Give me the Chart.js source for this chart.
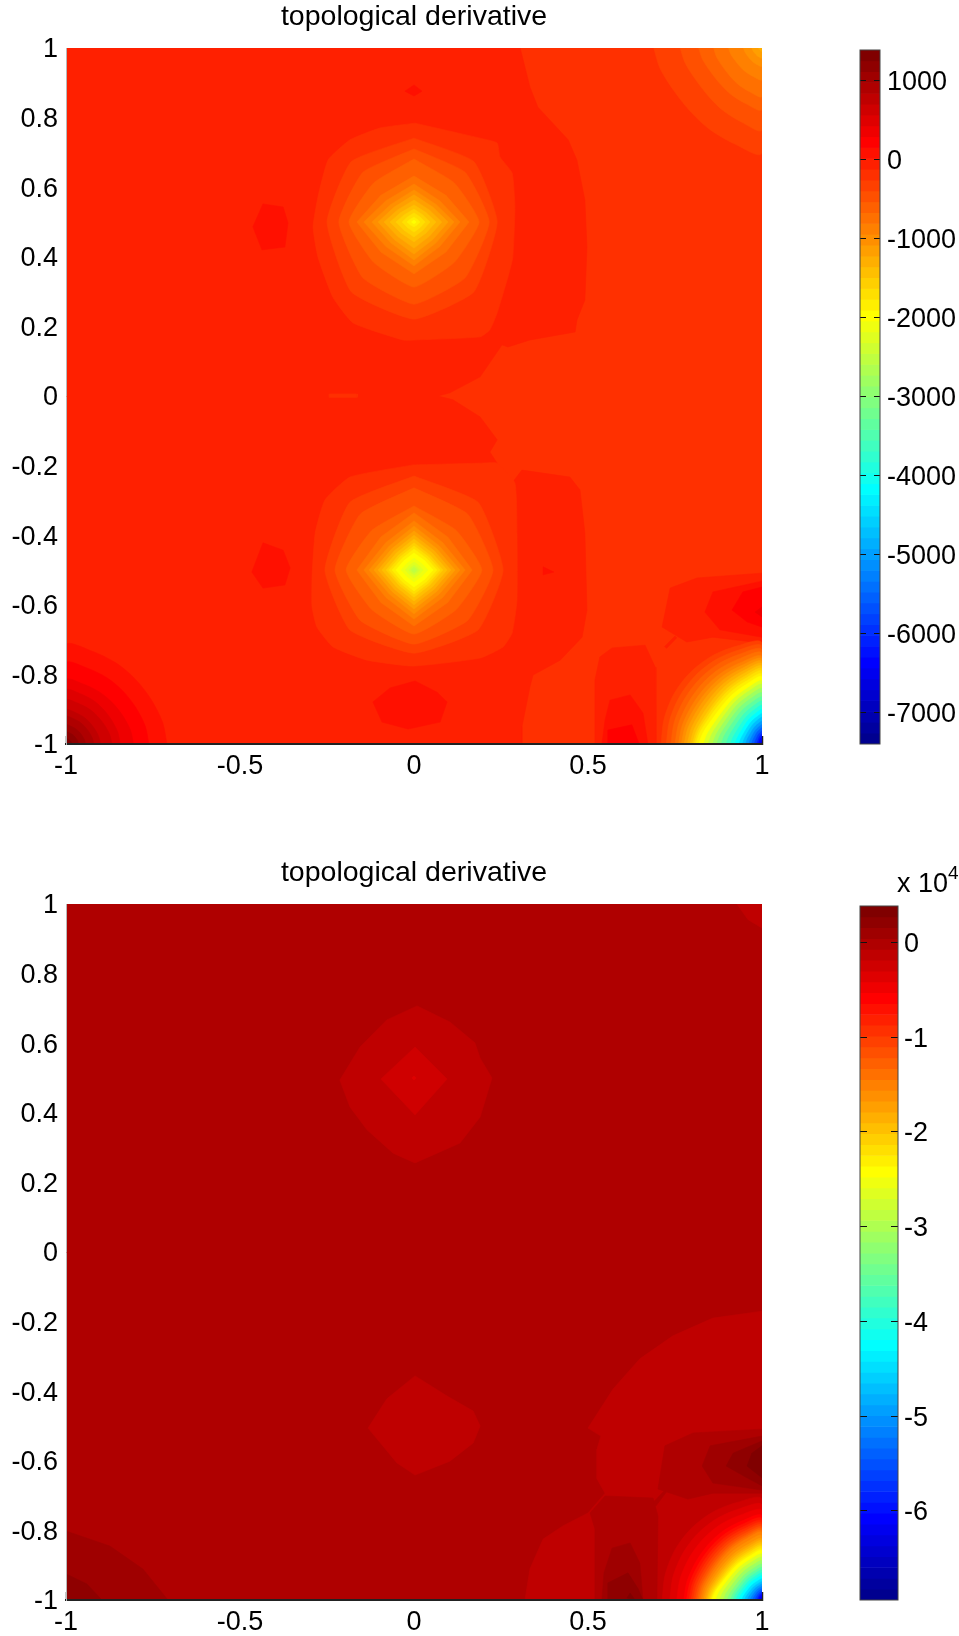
<!DOCTYPE html>
<html>
<head>
<meta charset="utf-8">
<title>topological derivative</title>
<script src="https://cdn.jsdelivr.net/npm/chart.js@4"></script>
<style>
  body { margin: 0; background: #fff; }
  canvas { position: absolute; }
  #exponent { position: absolute; left: 897px; top: 868px; font: 27px "Liberation Sans", Arial, sans-serif; color: #000; white-space: nowrap; line-height: 30px; }
  #exponent sup { font-size: 19px; line-height: 0; position: relative; top: -3px; vertical-align: super; }
</style>
</head>
<body>
<canvas id="topPlot" width="825" height="780" style="left:0;top:0"></canvas>
<canvas id="topBar" width="119" height="770" style="left:840px;top:0"></canvas>
<canvas id="bottomPlot" width="825" height="780" style="left:0;top:856px"></canvas>
<canvas id="bottomBar" width="119" height="780" style="left:840px;top:850px"></canvas>
<div id="exponent">x 10<sup>4</sup></div>
<script>
const titleText = "topological derivative";
const xTicks = [-1, -0.5, 0, 0.5, 1];
const yTicks = [-1, -0.8, -0.6, -0.4, -0.2, 0, 0.2, 0.4, 0.6, 0.8, 1];
const topBarTicks = [1000, 0, -1000, -2000, -3000, -4000, -5000, -6000, -7000];
const bottomBarTicks = [0, -1, -2, -3, -4, -5, -6];

// jet(64), index 0 is level 1
const jet = [
  "#00008f","#00009f","#0000af","#0000bf","#0000cf","#0000df","#0000ef","#0000ff",
  "#0010ff","#0020ff","#0030ff","#0040ff","#0050ff","#0060ff","#0070ff","#0080ff",
  "#008fff","#009fff","#00afff","#00bfff","#00cfff","#00dfff","#00efff","#00ffff",
  "#10ffef","#20ffdf","#30ffcf","#40ffbf","#50ffaf","#60ff9f","#70ff8f","#80ff80",
  "#8fff70","#9fff60","#afff50","#bfff40","#cfff30","#dfff20","#efff10","#ffff00",
  "#ffef00","#ffdf00","#ffcf00","#ffbf00","#ffaf00","#ff9f00","#ff8f00","#ff8000",
  "#ff7000","#ff6000","#ff5000","#ff4000","#ff3000","#ff2000","#ff1000","#ff0000",
  "#ef0000","#df0000","#cf0000","#bf0000","#af0000","#9f0000","#8f0000","#800000"
];

// colorbar band edges, top to bottom
const topEdges = [1392,1255,1117,980,842,705,568,430,293,155,18,-119,-257,-394,-532,-669,-806,-944,-1081,-1219,-1356,-1493,-1631,-1768,-1906,-2043,-2180,-2318,-2455,-2593,-2730,-2867,-3005,-3142,-3280,-3417,-3554,-3692,-3829,-3967,-4104,-4241,-4379,-4516,-4654,-4791,-4928,-5066,-5203,-5341,-5478,-5615,-5753,-5890,-6028,-6165,-6302,-6440,-6577,-6715,-6852,-6989,-7127,-7264,-7402];
const bottomEdges = [0.385,0.27,0.156,0.041,-0.073,-0.188,-0.302,-0.417,-0.531,-0.645,-0.76,-0.874,-0.989,-1.103,-1.218,-1.332,-1.447,-1.561,-1.675,-1.79,-1.904,-2.019,-2.133,-2.248,-2.362,-2.477,-2.591,-2.705,-2.82,-2.934,-3.049,-3.163,-3.278,-3.392,-3.507,-3.621,-3.735,-3.85,-3.964,-4.079,-4.193,-4.308,-4.422,-4.537,-4.651,-4.765,-4.88,-4.994,-5.109,-5.223,-5.338,-5.452,-5.567,-5.681,-5.795,-5.91,-6.024,-6.139,-6.253,-6.368,-6.482,-6.597,-6.711,-6.825,-6.94];

const full = [-1,1, 1,1, 1,-1, -1,-1];

// top panel, hand read contour outlines: [level, x,y, x,y, ..., curve]
const topMain = [
  [53, full],
  [54, [-1,1, 0.305,1, 0.333,0.888, 0.356,0.83, 0.443,0.736, 0.468,0.678, 0.491,0.563, 0.497,0.428, 0.491,0.276, 0.468,0.218, 0.463,0.184, 0.333,0.161, 0.27,0.141, 0.253,0.147, 0.19,0.055, 0.103,0.009, 0.069,0, 0.112,-0.011, 0.19,-0.06, 0.239,-0.126, 0.218,-0.161, 0.239,-0.193, 0.247,-0.27, 0.284,-0.247, 0.31,-0.213, 0.448,-0.233, 0.477,-0.27, 0.491,-0.394, 0.497,-0.615, 0.483,-0.693, 0.42,-0.759, 0.342,-0.802, 0.333,-0.836, 0.31,-0.951, 0.31,-1, -1,-1]],
  [53, [0.003,0.784, 0.19,0.741, 0.239,0.727, 0.247,0.687, 0.282,0.641, 0.29,0.543, 0.284,0.399, 0.27,0.342, 0.239,0.239, 0.218,0.19, 0.19,0.17, 0.003,0.161, -0.032,0.161, -0.175,0.21, -0.233,0.284, -0.276,0.399, -0.29,0.486, -0.276,0.572, -0.247,0.678, -0.184,0.736, -0.098,0.77], 0.15],
  [53, [-0.003,-0.198, 0.19,-0.193, 0.239,-0.193, 0.29,-0.25, 0.296,-0.394, 0.296,-0.586, 0.282,-0.681, 0.256,-0.721, 0.19,-0.753, -0.003,-0.776, -0.135,-0.759, -0.233,-0.721, -0.279,-0.664, -0.293,-0.606, -0.293,-0.52, -0.284,-0.394, -0.256,-0.299, -0.184,-0.233], 0.15],
  [53, [-0.244,0.006, -0.163,0.006, -0.163,-0.004, -0.244,-0.004]],
  [55, [0,0.894, 0.023,0.876, 0,0.862, -0.026,0.876]],
  [55, [-0.434,0.552, -0.376,0.543, -0.362,0.497, -0.371,0.428, -0.437,0.42, -0.463,0.486]],
  [55, [-0.434,-0.422, -0.376,-0.443, -0.356,-0.494, -0.371,-0.543, -0.434,-0.552, -0.466,-0.506]],
  [55, [0.003,-0.819, 0.066,-0.851, 0.095,-0.879, 0.075,-0.937, -0.017,-0.957, -0.092,-0.937, -0.118,-0.879, -0.069,-0.839]],
  [55, [0.371,-0.491, 0.402,-0.506, 0.371,-0.514]],
  [54, [0.736,-0.552, 0.813,-0.523, 1,-0.509, 1,-0.71, 0.859,-0.693, 0.784,-0.707, 0.713,-0.664]],
  [55, [1,-0.532, 0.859,-0.563, 0.836,-0.621, 0.879,-0.672, 1,-0.693]],
  [56, [1,-0.549, 0.945,-0.563, 0.914,-0.615, 0.957,-0.649, 1,-0.664]],
  [57, [1,-0.606, 0.98,-0.621, 1,-0.635]],
  [54, [0.569,-0.724, 0.664,-0.716, 0.693,-0.779, 0.695,-1, 0.52,-1, 0.52,-0.816, 0.534,-0.75]],
  [55, [0.563,-0.874, 0.621,-0.859, 0.658,-0.911, 0.672,-1, 0.54,-1, 0.549,-0.931]],
  [56, [0.557,-0.96, 0.626,-0.945, 0.647,-1, 0.555,-1]],
  [54, [0.72,-0.72, 0.75,-0.69, 0.755,-0.695, 0.726,-0.725]]
];

// peaks: [level, up, right, down, left, roundness]
const topUpperPeak = [
  [52,0.241,0.239,0.279,0.25,0.72],[51,0.21,0.216,0.236,0.216,0.68],[50,0.181,0.187,0.187,0.187,0.62],
  [49,0.132,0.158,0.149,0.164,0.58],[48,0.109,0.132,0.126,0.144,0.56],[47,0.092,0.115,0.109,0.121,0.55],
  [46,0.078,0.098,0.092,0.103,0.55],[45,0.063,0.08,0.075,0.086,0.55],[44,0.049,0.063,0.057,0.069,0.55],
  [43,0.037,0.046,0.043,0.052,0.55],[42,0.026,0.032,0.029,0.034,0.55],[41,0.014,0.017,0.014,0.02,0.55],
  [40,0.005,0.006,0.005,0.007,0.55]
];
const topLowerPeak = [
  [52,0.27,0.256,0.239,0.256,0.72],[51,0.236,0.227,0.213,0.227,0.68],[50,0.184,0.195,0.184,0.195,0.62],
  [49,0.164,0.167,0.161,0.164,0.58],[48,0.141,0.147,0.141,0.144,0.56],[47,0.126,0.132,0.126,0.129,0.55],
  [46,0.112,0.118,0.112,0.115,0.55],[45,0.1,0.106,0.1,0.103,0.55],[44,0.089,0.095,0.089,0.092,0.55],
  [43,0.078,0.083,0.078,0.08,0.55],[42,0.069,0.075,0.069,0.072,0.55],[41,0.06,0.066,0.06,0.063,0.55],
  [40,0.049,0.055,0.049,0.052,0.55],[39,0.034,0.04,0.034,0.037,0.55],[38,0.023,0.026,0.023,0.025,0.55],
  [37,0.014,0.016,0.014,0.015,0.55],[36,0.008,0.009,0.008,0.008,0.55]
];

// corner fans: [level, reach along horizontal edge, reach along vertical edge, bulge]
const topFan = [
  [52,0.29,0.29,1],[51,0.275,0.28,0.9],[50,0.262,0.27,0.8],[49,0.25,0.26,0.7],[48,0.24,0.25,0.6],[47,0.232,0.243,0.5],[46,0.224,0.236,0.42],
  [45,0.215,0.229,0.35],[44,0.207,0.222,0.28],[43,0.2,0.215,0.2],[42,0.195,0.208,0.14],[41,0.19,0.2,0.08],[40,0.182,0.192,0],[38,0.168,0.18,0],
  [36,0.155,0.17,0],[34,0.142,0.158,0],[32,0.13,0.146,0],[30,0.117,0.134,0],[28,0.103,0.122,0],[26,0.09,0.11,0],[24,0.077,0.098,0],
  [22,0.066,0.086,0],[20,0.056,0.076,0],[18,0.047,0.065,0],[16,0.038,0.055,0],[14,0.03,0.046,0],[12,0.022,0.037,0],[10,0.015,0.029,0],
  [8,0.01,0.021,0],[6,0.005,0.013,0],[4,0.002,0.006,0]
];
const topLeftCorner = [
  [55,0.29,0.284,0.65],[56,0.238,0.232,0.65],[57,0.194,0.184,0.6],[58,0.156,0.155,0.6],[59,0.132,0.126,0.55],[60,0.099,0.098,0.55],
  [61,0.08,0.079,0.5],[62,0.056,0.055,0.5],[63,0.036,0.035,0.5],[64,0.017,0.016,0.5]
];
const topRightCorner = [
  [52,0.311,0.302,0.3],[51,0.235,0.235,0.2],[50,0.182,0.177,0.2],[49,0.139,0.139,0.2],[48,0.096,0.091,0.2],[47,0.053,0.053,0.2],[46,0.029,0.029,0.2],[45,0.01,0.01,0.2]
];

// bottom panel
const bottomMain = [
  [61, full],
  [60, [0.009,0.707, 0.103,0.661, 0.175,0.601, 0.19,0.557, 0.224,0.5, 0.19,0.388, 0.132,0.313, 0.003,0.256, -0.06,0.284, -0.135,0.351, -0.184,0.417, -0.213,0.494, -0.155,0.589, -0.078,0.667]],
  [59, [0.003,0.589, 0.095,0.497, 0.003,0.394, -0.095,0.497]],
  [58, [0,0.506, 0.006,0.5, 0,0.494, -0.006,0.5]],
  [60, [0.003,-0.356, 0.095,-0.414, 0.17,-0.457, 0.19,-0.5, 0.17,-0.549, 0.103,-0.601, 0.003,-0.641, -0.049,-0.606, -0.132,-0.506, -0.078,-0.422]],
  [60, [0.928,1, 0.96,0.955, 1,0.931, 1,1]],
  [62, [-1,-0.802, -0.874,-0.845, -0.779,-0.911, -0.707,-1, -1,-1]],
  [63, [-1,-0.925, -0.94,-0.954, -0.897,-1, -1,-1]],
  [60, [1,-0.17, 0.859,-0.19, 0.744,-0.241, 0.649,-0.307, 0.572,-0.394, 0.5,-0.506, 0.537,-0.529, 0.526,-0.566, 0.526,-0.652, 0.549,-0.693, 0.5,-0.75, 0.428,-0.787, 0.371,-0.825, 0.333,-0.911, 0.319,-1, 1,-1]],
  [61, [1,-0.509, 0.802,-0.52, 0.721,-0.557, 0.701,-0.681, 0.787,-0.71, 0.859,-0.693, 1,-0.693]],
  [61, [0.549,-0.701, 0.687,-0.707, 0.701,-0.759, 0.698,-1, 0.52,-1, 0.52,-0.796, 0.506,-0.75]],
  [61, [0.687,-0.72, 0.72,-0.685, 0.725,-0.69, 0.695,-0.73]],
  [62, [1,-0.529, 0.851,-0.557, 0.828,-0.615, 0.859,-0.664, 1,-0.684]],
  [63, [1,-0.543, 0.917,-0.578, 0.897,-0.615, 0.957,-0.649, 1,-0.672]],
  [64, [1,-0.557, 0.971,-0.578, 0.957,-0.615, 1,-0.649]],
  [62, [0.569,-0.851, 0.621,-0.836, 0.649,-0.894, 0.658,-1, 0.54,-1, 0.546,-0.922]],
  [63, [0.557,-0.951, 0.615,-0.922, 0.644,-0.968, 0.658,-1, 0.555,-1]],
  [64, [0.612,-0.994, 0.621,-0.98, 0.635,-1]]
];
const bottomFan = [
  [59,0.287,0.289,1],[58,0.265,0.272,0.9],[57,0.245,0.256,0.8],[56,0.225,0.241,0.68],[55,0.217,0.233,0.6],[54,0.21,0.226,0.55],[53,0.204,0.22,0.5],
  [52,0.198,0.214,0.45],[51,0.192,0.208,0.4],[50,0.187,0.203,0.35],[49,0.182,0.198,0.32],[48,0.177,0.193,0.28],[47,0.172,0.184,0.24],[46,0.167,0.175,0.2],
  [45,0.162,0.169,0.16],[44,0.158,0.163,0.12],[43,0.154,0.157,0.08],[42,0.15,0.152,0.05],[41,0.147,0.146,0.02],[40,0.144,0.141,0],[38,0.133,0.131,0],
  [36,0.122,0.122,0],[34,0.111,0.112,0],[32,0.1,0.102,0],[30,0.091,0.093,0],[28,0.083,0.085,0],[26,0.075,0.077,0],[24,0.067,0.069,0],
  [22,0.058,0.06,0],[20,0.05,0.052,0],[18,0.042,0.045,0],[16,0.034,0.038,0],[14,0.027,0.032,0],[12,0.02,0.026,0],[10,0.014,0.021,0],
  [8,0.01,0.016,0],[6,0.006,0.01,0],[4,0.003,0.005,0]
];

// outline of a corner fan as fractions of the two reaches, inner flat arcs and outer round arcs
const arcFlat = [[1,0],[0.93,0.17],[0.78,0.38],[0.63,0.57],[0.48,0.73],[0.25,0.89],[0,1]];
const arcRound = [[1,0],[0.97,0.25],[0.87,0.5],[0.71,0.71],[0.5,0.87],[0.25,0.97],[0,1]];

function cornerRegions(rows, cx, cy) {
  const sx = cx > 0 ? -1 : 1, sy = cy > 0 ? -1 : 1;
  return rows.map(function (r) {
    const pts = [], t = r[3];
    arcFlat.forEach(function (a, i) {
      const fx = a[0] + (arcRound[i][0] - a[0]) * t;
      const fy = a[1] + (arcRound[i][1] - a[1]) * t;
      pts.push(cx + sx * r[1] * fx, cy + sy * r[2] * fy);
    });
    pts.push(cx, cy);
    return [r[0], pts, 0.3];
  });
}

function peakRegions(rows, cx, cy) {
  return rows.map(function (r) {
    const up = r[1], right = r[2], down = r[3], left = r[4], k = r[5];
    return [r[0], [
      cx, cy + up, cx + right * k, cy + up * k, cx + right, cy, cx + right * k, cy - down * k,
      cx, cy - down, cx - left * k, cy - down * k, cx - left, cy, cx - left * k, cy + up * k
    ], k > 0.6 ? 0.15 : 0];
  });
}

function toDataset(region, i, all) {
  const pts = [];
  for (let j = 0; j < region[1].length; j += 2) {
    pts.push({ x: region[1][j], y: region[1][j + 1] });
  }
  pts.push(pts[0]);
  const color = jet[region[0] - 1];
  return {
    data: pts,
    showLine: true,
    fill: "shape",
    backgroundColor: color,
    borderColor: color,
    borderWidth: 0.6,
    pointRadius: 0,
    tension: region[2] || 0,
    clip: 0,
    order: all.length - i
  };
}

function plainLabel(v) {
  return String(v);
}

Chart.defaults.font.family = '"Liberation Sans", Arial, sans-serif';
Chart.defaults.font.size = 27;
Chart.defaults.color = "#000";
Chart.defaults.animation = false;

function contourChart(id, regions) {
  new Chart(id, {
    type: "scatter",
    data: { datasets: regions.map(toDataset) },
    options: {
      responsive: false,
      layout: { padding: { left: 0, right: 63, top: 0, bottom: 0 } },
      plugins: {
        legend: { display: false },
        tooltip: { enabled: false },
        title: {
          display: true,
          fullSize: false,
          text: titleText,
          color: "#000",
          font: { size: 28.5, weight: "normal", lineHeight: 1 },
          padding: { top: 3, bottom: 16.5 }
        }
      },
      scales: {
        x: {
          type: "linear",
          min: -1,
          max: 1,
          afterBuildTicks: function (s) { s.ticks = xTicks.map(function (v) { return { value: v }; }); },
          afterFit: function (s) { s.height = 36; },
          ticks: { padding: 14, maxRotation: 0, autoSkip: false, callback: plainLabel },
          grid: { drawOnChartArea: false, drawTicks: true, tickLength: -8, tickColor: "#222", tickWidth: 1.5 },
          border: { color: "#222", width: 2, z: 1 }
        },
        y: {
          type: "linear",
          min: -1,
          max: 1,
          afterBuildTicks: function (s) { s.ticks = yTicks.map(function (v) { return { value: v }; }); },
          afterFit: function (s) { s.width = 66; },
          ticks: { padding: 8, autoSkip: false, labelOffset: 2, callback: plainLabel },
          grid: { display: false, drawTicks: false },
          border: { color: "#b8b8b8", width: 1, z: 1 }
        }
      }
    }
  });
}

const frame = {
  id: "frame",
  afterDraw: function (chart) {
    const a = chart.chartArea, c = chart.ctx;
    c.save();
    c.strokeStyle = "#444";
    c.lineWidth = 1;
    c.strokeRect(a.left, a.top, a.right - a.left, a.bottom - a.top);
    c.restore();
  }
};

function barChart(id, edges, tickValues, pad, barWidth, dash, labelPad) {
  const datasets = [];
  for (let n = 0; n < 64; n++) {
    datasets.push({
      data: [[edges[n + 1], edges[n]]],
      backgroundColor: jet[63 - n],
      barPercentage: 1,
      categoryPercentage: 1,
      grouped: false
    });
  }
  new Chart(id, {
    type: "bar",
    data: { labels: ["colorbar"], datasets: datasets },
    plugins: [frame],
    options: {
      responsive: false,
      layout: { padding: { left: 20, right: 0, top: pad.top, bottom: pad.bottom } },
      plugins: { legend: { display: false }, tooltip: { enabled: false } },
      scales: {
        x: { display: false },
        y: {
          position: "right",
          min: edges[64],
          max: edges[0],
          afterBuildTicks: function (s) { s.ticks = tickValues.map(function (v) { return { value: v }; }); },
          afterFit: function (s) { s.width = 119 - 20 - barWidth; },
          ticks: { padding: labelPad, autoSkip: false, labelOffset: 2, callback: plainLabel },
          grid: { drawTicks: false, color: "#111", z: 1 },
          border: { display: false, dash: dash }
        }
      }
    }
  });
}

const topRegions = topMain
  .concat(peakRegions(topUpperPeak, 0, 0.5))
  .concat(peakRegions(topLowerPeak, 0, -0.5))
  .concat(cornerRegions(topLeftCorner, -1, -1))
  .concat(cornerRegions(topRightCorner, 1, 1))
  .concat(cornerRegions(topFan, 1, -1));
const bottomRegions = bottomMain.concat(cornerRegions(bottomFan, 1, -1));

contourChart("topPlot", topRegions);
contourChart("bottomPlot", bottomRegions);
barChart("topBar", topEdges, topBarTicks, { top: 50, bottom: 26 }, 20, [6, 8], 7);
barChart("bottomBar", bottomEdges, bottomBarTicks, { top: 56, bottom: 30 }, 38, [7, 24], 6);
</script>
</body>
</html>
